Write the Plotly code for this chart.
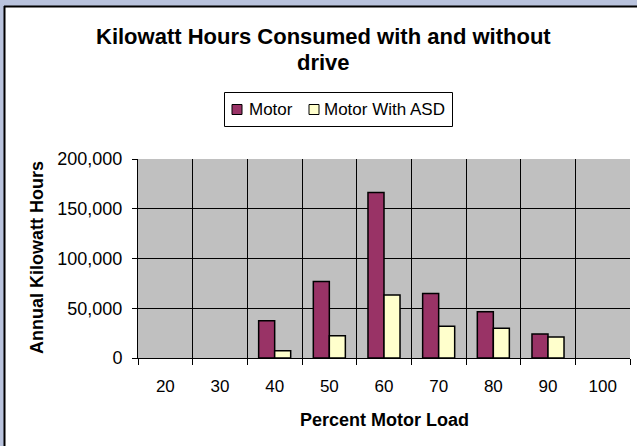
import plotly.graph_objects as go

categories = ["20", "30", "40", "50", "60", "70", "80", "90", "100"]
motor = [None, None, 37500, 76800, 166300, 64700, 46600, 24100, None]
motor_asd = [None, None, 7400, 22400, 63400, 31800, 29800, 21100, None]
series_names = ["Motor", "Motor With ASD"]
series_colors = ["#993366", "#FFFFCC"]

W, H = 637, 446
L, R, T, B = 138, 7, 159, 88
PW, PH = W - L - R, H - T - B

def px(x):
    return (x - L) / PW

def py(y):
    return (H - B - y) / PH

FONT = "Liberation Sans, Arial, sans-serif"

fig = go.Figure()
for vals, name, col in zip([motor, motor_asd], series_names, series_colors):
    fig.add_trace(go.Bar(x=categories, y=vals, name=name, showlegend=False,
                         marker=dict(color=col, line=dict(color="black", width=1.5))))

blue = "#B9C3DD"
shapes = [
    # white cover on right edge outside plot area
    dict(type="rect", xref="paper", yref="paper", x0=px(631.5), x1=px(W + 10), y0=py(H + 10), y1=py(8),
         fillcolor="white", line=dict(width=0), layer="above"),
    dict(type="rect", xref="paper", yref="paper", x0=px(0), x1=px(4), y0=py(H + 5), y1=py(-5),
         fillcolor=blue, line=dict(width=0), layer="above"),
    dict(type="rect", xref="paper", yref="paper", x0=px(-5), x1=px(W + 5), y0=py(6), y1=py(-5),
         fillcolor=blue, line=dict(width=0), layer="above"),
    dict(type="line", xref="paper", yref="paper", x0=px(4), x1=px(W + 5), y0=py(6.5), y1=py(6.5),
         line=dict(color="black", width=2), layer="above"),
    dict(type="line", xref="paper", yref="paper", x0=px(4.5), x1=px(4.5), y0=py(6), y1=py(H + 5),
         line=dict(color="black", width=2), layer="above"),
    # legend box
    dict(type="rect", xref="paper", yref="paper", x0=px(224.5), x1=px(452.5), y0=py(126.5), y1=py(92.5),
         fillcolor="white", line=dict(color="black", width=1), layer="above"),
]

# legend symbols and labels
legend_x = [(232, 247), (309, 322)]
annotations = []
for (sx, tx), name, col in zip(legend_x, series_names, series_colors):
    shapes.append(dict(type="rect", xref="paper", yref="paper", x0=px(sx), x1=px(sx + 10),
                       y0=py(114.5), y1=py(104.5), fillcolor=col,
                       line=dict(color="black", width=1), layer="above"))
    annotations.append(dict(text=name, xref="paper", yref="paper", x=px(tx), y=py(109.5),
                            xanchor="left", yanchor="middle", showarrow=False,
                            font=dict(family=FONT, size=17, color="black")))

annotations += [
    dict(text="<b>Kilowatt Hours Consumed with and without</b>", xref="paper", yref="paper",
         x=px(323), y=py(36), xanchor="center", yanchor="middle", showarrow=False,
         font=dict(family=FONT, size=22, color="black")),
    dict(text="<b>drive</b>", xref="paper", yref="paper",
         x=px(323), y=py(62), xanchor="center", yanchor="middle", showarrow=False,
         font=dict(family=FONT, size=22, color="black")),
    dict(text="<b>Annual Kilowatt Hours</b>", xref="paper", yref="paper",
         x=px(37), y=py(258), xanchor="center", yanchor="middle", textangle=-90, showarrow=False,
         font=dict(family=FONT, size=18, color="black")),
    dict(text="<b>Percent Motor Load</b>", xref="paper", yref="paper",
         x=px(384), y=py(420), xanchor="center", yanchor="middle", showarrow=False,
         font=dict(family=FONT, size=18, color="black")),
]

fig.update_layout(
    width=W, height=H,
    margin=dict(l=L, r=R, t=T, b=B, pad=0, autoexpand=False),
    paper_bgcolor="white",
    plot_bgcolor="#C0C0C0",
    barmode="group",
    bargap=0.414,
    bargroupgap=0,
    font=dict(family=FONT, size=17, color="black"),
    showlegend=False,
    shapes=shapes,
    annotations=annotations,
    xaxis=dict(type="category", tickson="boundaries", showgrid=True, gridcolor="black", gridwidth=1,
               ticks="outside", ticklen=6, tickcolor="black", showline=True, linecolor="black",
               linewidth=1, ticklabelstandoff=13, tickfont=dict(size=17), zeroline=False,
               automargin=False),
    yaxis=dict(range=[0, 200000], dtick=50000, tickformat=",", showgrid=True, gridcolor="black",
               gridwidth=1, ticks="outside", ticklen=5, tickcolor="black", showline=True,
               linecolor="black", linewidth=1, ticklabelstandoff=6, tickfont=dict(size=18),
               zeroline=False, automargin=False),
)

fig.write_html("out.html", config={"displayModeBar": False},
               post_script="document.documentElement.style.margin='0';document.documentElement.style.overflow='hidden';document.body.style.margin='0';document.body.style.overflow='hidden';")
